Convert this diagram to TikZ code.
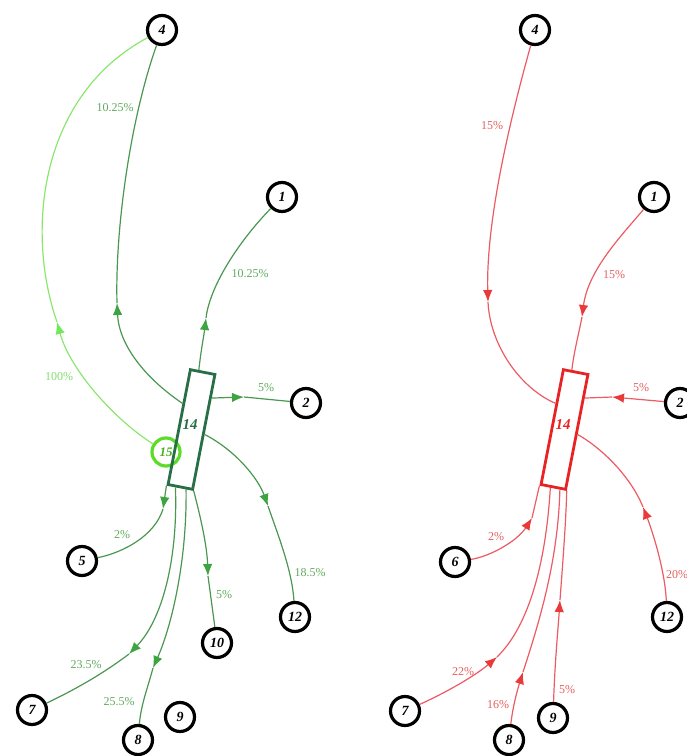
\documentclass[tikz,border=0pt]{standalone}
\usepackage{fontspec}
\setmainfont{Liberation Serif}
\usetikzlibrary{arrows.meta,calc}
\definecolor{gedge}{RGB}{75,150,80}
\definecolor{gtipc}{RGB}{60,165,65}
\definecolor{glabc}{RGB}{95,170,95}
\definecolor{grect}{RGB}{40,110,70}
\definecolor{lgedge}{RGB}{140,230,110}
\definecolor{lglab}{RGB}{130,220,110}
\definecolor{c15}{RGB}{90,220,40}
\definecolor{redge}{RGB}{236,90,100}
\definecolor{rlabc}{RGB}{228,95,95}
\definecolor{rrect}{RGB}{232,35,35}
\tikzset{
  x=1pt, y=-1pt,
  numnode/.style={circle, draw=black, line width=3.2pt, minimum size=29pt, inner sep=0pt,
    font=\fontsize{14}{14}\selectfont\bfseries\itshape},
  gbox/.style={draw=grect, line width=2.8pt, minimum width=25pt, minimum height=117pt, rotate=-11, inner sep=0pt},
  rbox/.style={draw=rrect, line width=2.8pt, minimum width=25pt, minimum height=117pt, rotate=-11, inner sep=0pt},
  boxtxt/.style={inner sep=0pt, font=\fontsize{15}{15}\selectfont\bfseries\itshape},
  circfifteen/.style={circle, draw=c15, line width=3.2pt, minimum size=28pt, inner sep=0pt,
    text=c15!80!black, font=\fontsize{13}{13}\selectfont\bfseries\itshape},
  gline/.style={draw=gedge, line width=1.2pt},
  gtip/.style={gline, -{Latex[length=12pt,width=9.5pt,color=gtipc]}},
  lgline/.style={draw=lgedge, line width=1.2pt},
  lgtip/.style={lgline, -{Latex[length=12pt,width=9.5pt,color=lgedge!80!green]}},
  rline/.style={draw=redge, line width=1.2pt},
  rtip/.style={rline, -{Latex[length=12pt,width=9.5pt,color=rrect!90!white]}},
  glab/.style={text=glabc, inner sep=1pt, font=\fontsize{12}{12}\selectfont},
  lglabs/.style={text=lglab, inner sep=1pt, font=\fontsize{12}{12}\selectfont},
  rlab/.style={text=rlabc, inner sep=1pt, font=\fontsize{12}{12}\selectfont},
}
\begin{document}
\begin{tikzpicture}
\useasboundingbox (0,0) rectangle (687,756);

% ===== Left panel =====
\node[numnode] (L4) at (162,30) {4};
\node[numnode] (L1) at (282,197) {1};
\node[numnode] (L2) at (306,403) {2};
\node[numnode] (L5) at (82,561) {5};
\node[numnode] (L10) at (217,643) {10};
\node[numnode] (L12) at (295,617) {12};
\node[numnode] (L7) at (32,710) {7};
\node[numnode] (L8) at (138,740) {8};
\node[numnode] (L9) at (180,717) {9};
\node[circfifteen] (L15) at (166,452) {15};
\node[gbox] (L14) at (191.5,429.5) {};
\node[boxtxt, text=grect] (L14t) at (190,425) {14};

\coordinate (LP4) at ($(L14.north west)!0.3!(L14.south west)$);
\coordinate (LP1) at ($(L14.north west)!0.35!(L14.north east)$);
\coordinate (LP2) at ($(L14.north east)!0.21!(L14.south east)$);
\coordinate (LP12) at ($(L14.north east)!0.52!(L14.south east)$);
\coordinate (LP5) at (L14.south west);
\coordinate (LP7) at ($(L14.south west)!0.33!(L14.south east)$);
\coordinate (LP8) at ($(L14.south west)!0.72!(L14.south east)$);
\coordinate (LP10) at (L14.south east);

\coordinate (LW4) at (117,303);
\coordinate (LW1) at (206,318);
\coordinate (LW2) at (244,397);
\coordinate (LW12) at (268,506);
\coordinate (LW5) at (163,509);
\coordinate (LW7) at (129,654);
\coordinate (LW8) at (153,668);
\coordinate (LW10) at (208,576);
\coordinate (LW15) at (57,322);

\draw[gtip] (LP4) .. controls (145,378) and (119,345) .. (LW4);
\draw[gline] (LW4) .. controls (115,230) and (130,120) .. (L4);
\draw[gtip] (LP1) .. controls (201,350) and (204,335) .. (LW1);
\draw[gline] (LW1) .. controls (210,285) and (240,240) .. (L1);
\draw[gtip] (LP2) -- (LW2);
\draw[gline] (LW2) -- (L2);
\draw[gtip] (LP12) .. controls (235,450) and (258,478) .. (LW12);
\draw[gline] (LW12) .. controls (278,535) and (292,570) .. (L12);
\draw[gtip] (LP5) -- (LW5);
\draw[gline] (LW5) .. controls (155,535) and (125,552) .. (L5);
\draw[gtip] (LP7) .. controls (178,560) and (162,620) .. (LW7);
\draw[gline] (LW7) .. controls (100,676) and (70,692) .. (L7);
\draw[gtip] (LP8) .. controls (187,560) and (172,625) .. (LW8);
\draw[gline] (LW8) .. controls (147,690) and (141,705) .. (L8);
\draw[gtip] (LP10) .. controls (200,515) and (207,545) .. (LW10);
\draw[gline] (LW10) -- (L10);
\draw[lgtip] (L15) .. controls (115,420) and (70,370) .. (LW15);
\draw[lgline] (LW15) .. controls (25,230) and (40,95) .. (L4);

\node[glab] (la1) at (115,108) {10.25\%};
\node[glab] (la2) at (250,274) {10.25\%};
\node[glab] (la3) at (266,388) {5\%};
\node[glab] (la4) at (310,573) {18.5\%};
\node[glab] (la5) at (122,535) {2\%};
\node[glab] (la6) at (224,595) {5\%};
\node[glab] (la7) at (86,665) {23.5\%};
\node[glab] (la8) at (119,702) {25.5\%};
\node[lglabs] (la9) at (59,377) {100\%};

% ===== Right panel =====
\node[numnode] (R4) at (535,30) {4};
\node[numnode] (R1) at (654,197) {1};
\node[numnode] (R2) at (680,403) {2};
\node[numnode] (R6) at (455,562) {6};
\node[numnode] (R12) at (667,617) {12};
\node[numnode] (R7) at (405,711) {7};
\node[numnode] (R8) at (509,740) {8};
\node[numnode] (R9) at (553,718) {9};
\node[rbox] (R14) at (564.5,429.5) {};
\node[boxtxt, text=rrect] (R14t) at (563,425) {14};

\coordinate (RP4) at ($(R14.north west)!0.3!(R14.south west)$);
\coordinate (RP1) at ($(R14.north west)!0.35!(R14.north east)$);
\coordinate (RP2) at ($(R14.north east)!0.21!(R14.south east)$);
\coordinate (RP12) at ($(R14.north east)!0.52!(R14.south east)$);
\coordinate (RP6) at (R14.south west);
\coordinate (RP7) at ($(R14.south west)!0.4!(R14.south east)$);
\coordinate (RP8) at ($(R14.south west)!0.75!(R14.south east)$);
\coordinate (RP9) at (R14.south east);

\coordinate (RW4) at (488,302);
\coordinate (RW1) at (582,317);
\coordinate (RW2) at (612,397);
\coordinate (RW12) at (643,507);
\coordinate (RW6) at (532,518);
\coordinate (RW7) at (497,657);
\coordinate (RW8) at (523,672);
\coordinate (RW9) at (560,600);

\draw[rtip] (R4) .. controls (510,120) and (486,220) .. (RW4);
\draw[rline] (RW4) .. controls (490,345) and (520,388) .. (RP4);
\draw[rtip] (R1) .. controls (622,235) and (588,270) .. (RW1);
\draw[rline] (RW1) .. controls (578,337) and (574,352) .. (RP1);
\draw[rtip] (R2) -- (RW2);
\draw[rline] (RW2) -- (RP2);
\draw[rtip] (R12) .. controls (665,570) and (652,530) .. (RW12);
\draw[rline] (RW12) .. controls (630,475) and (600,447) .. (RP12);
\draw[rtip] (R6) .. controls (492,556) and (518,540) .. (RW6);
\draw[rline] (RW6) -- (RP6);
\draw[rtip] (R7) .. controls (445,693) and (475,676) .. (RW7);
\draw[rline] (RW7) .. controls (530,625) and (546,560) .. (RP7);
\draw[rtip] (R8) .. controls (513,705) and (518,688) .. (RW8);
\draw[rline] (RW8) .. controls (540,620) and (558,560) .. (RP8);
\draw[rtip] (R9) .. controls (555,660) and (558,630) .. (RW9);
\draw[rline] (RW9) .. controls (563,560) and (566,520) .. (RP9);

\node[rlab] (rb1) at (492,126) {15\%};
\node[rlab] (rb2) at (614,275) {15\%};
\node[rlab] (rb3) at (641,388) {5\%};
\node[rlab, anchor=west] (rb4) at (665,575) {20\%};
\node[rlab] (rb5) at (496,537) {2\%};
\node[rlab] (rb6) at (463,672) {22\%};
\node[rlab] (rb7) at (498,705) {16\%};
\node[rlab] (rb8) at (567,690) {5\%};
\end{tikzpicture}
\end{document}
